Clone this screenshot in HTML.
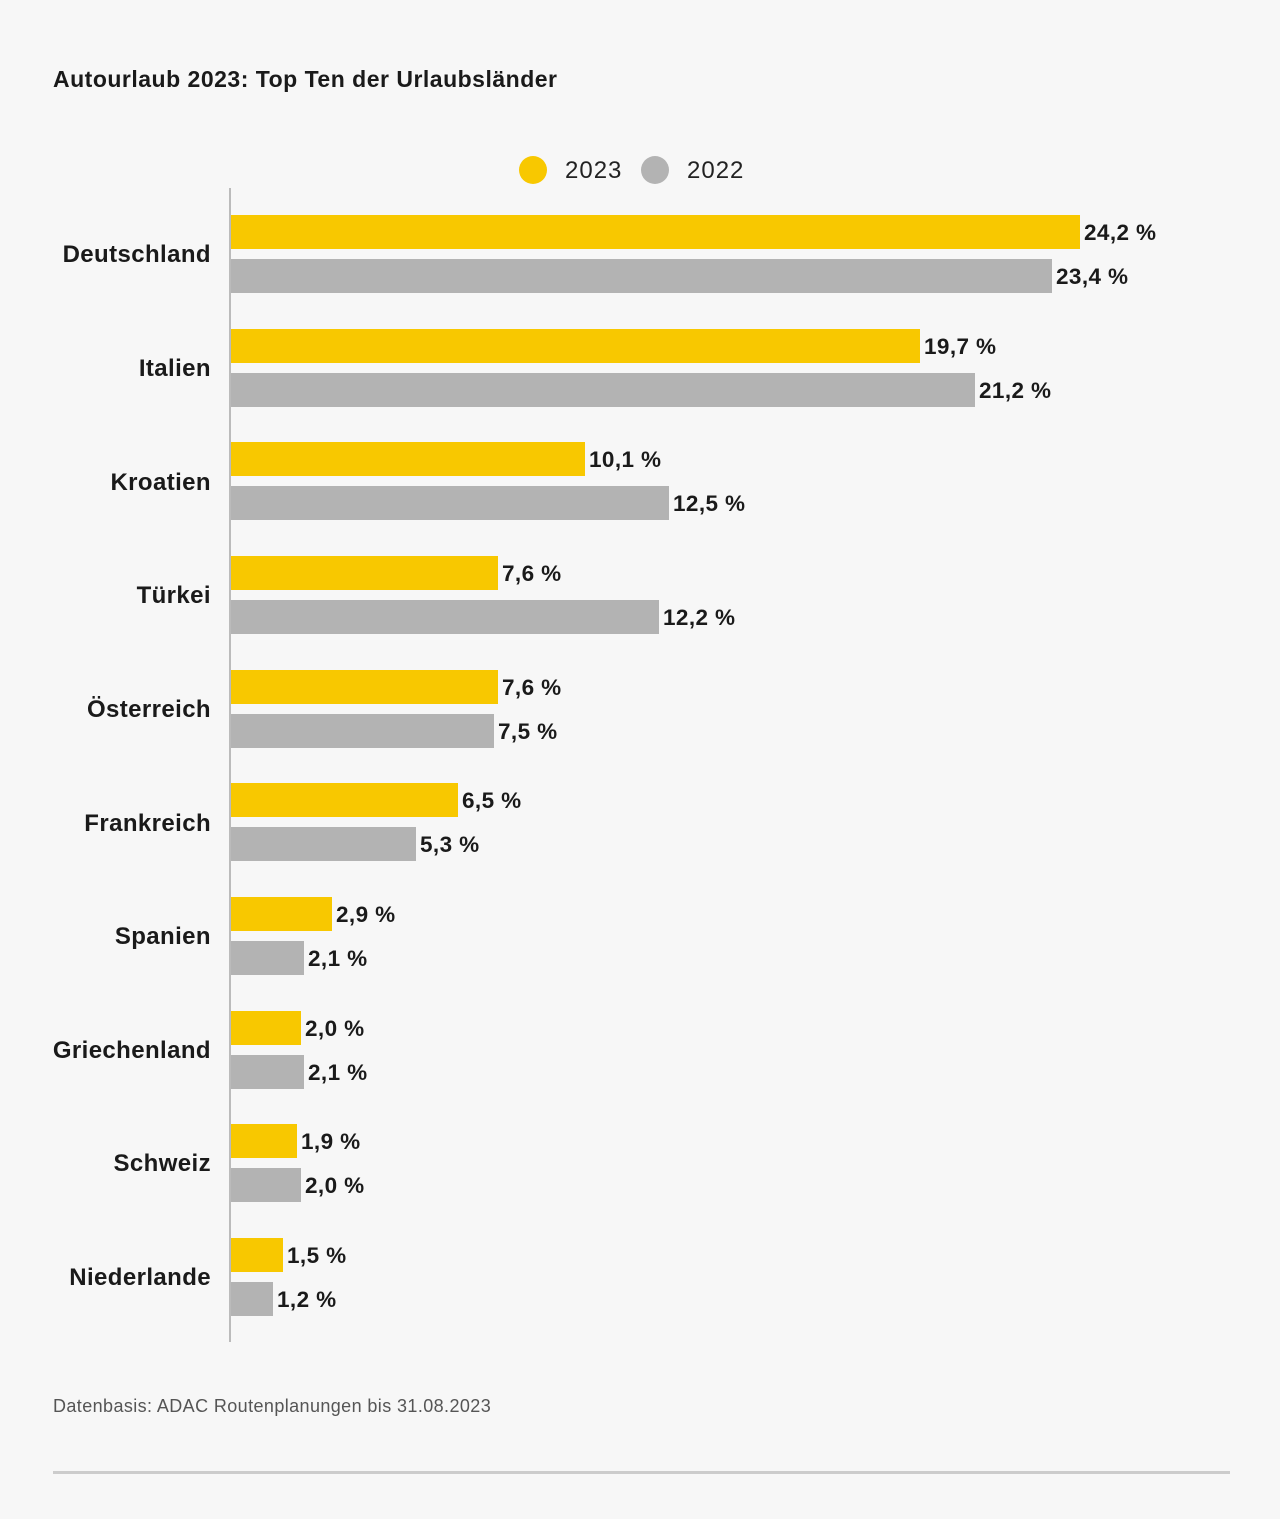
<!DOCTYPE html>
<html><head><meta charset="utf-8"><style>
html,body{margin:0;padding:0;background:#f7f7f7;}
svg{display:block;font-family:"Liberation Sans",sans-serif;}
</style></head><body>
<svg width="1280" height="1519" viewBox="0 0 1280 1519" xmlns="http://www.w3.org/2000/svg">
<rect width="1280" height="1519" fill="#f7f7f7"/>
<text x="53" y="87" font-size="23" font-weight="bold" fill="#1a1a1a" letter-spacing="0.5">Autourlaub 2023: Top Ten der Urlaubsländer</text>
<circle cx="533" cy="170" r="14" fill="#f8c800"/>
<text x="565" y="178" font-size="24" fill="#222" letter-spacing="1">2023</text>
<circle cx="655" cy="170" r="14" fill="#b3b3b3"/>
<text x="687" y="178" font-size="24" fill="#222" letter-spacing="1">2022</text>
<line x1="230" y1="188" x2="230" y2="1342" stroke="#bbb" stroke-width="2"/>
<g font-weight="bold" fill="#1a1a1a" font-size="24" letter-spacing="0.4">
<text x="211" y="262" text-anchor="end">Deutschland</text>
<text x="211" y="376" text-anchor="end">Italien</text>
<text x="211" y="490" text-anchor="end">Kroatien</text>
<text x="211" y="603" text-anchor="end">Türkei</text>
<text x="211" y="717" text-anchor="end">Österreich</text>
<text x="211" y="831" text-anchor="end">Frankreich</text>
<text x="211" y="944" text-anchor="end">Spanien</text>
<text x="211" y="1058" text-anchor="end">Griechenland</text>
<text x="211" y="1171" text-anchor="end">Schweiz</text>
<text x="211" y="1285" text-anchor="end">Niederlande</text>
</g>
<g>
<rect x="231" y="215" width="849" height="34" fill="#f8c800"/><rect x="231" y="259" width="821" height="34" fill="#b3b3b3"/>
<rect x="231" y="329" width="689" height="34" fill="#f8c800"/><rect x="231" y="373" width="744" height="34" fill="#b3b3b3"/>
<rect x="231" y="442" width="354" height="34" fill="#f8c800"/><rect x="231" y="486" width="438" height="34" fill="#b3b3b3"/>
<rect x="231" y="556" width="267" height="34" fill="#f8c800"/><rect x="231" y="600" width="428" height="34" fill="#b3b3b3"/>
<rect x="231" y="670" width="267" height="34" fill="#f8c800"/><rect x="231" y="714" width="263" height="34" fill="#b3b3b3"/>
<rect x="231" y="783" width="227" height="34" fill="#f8c800"/><rect x="231" y="827" width="185" height="34" fill="#b3b3b3"/>
<rect x="231" y="897" width="101" height="34" fill="#f8c800"/><rect x="231" y="941" width="73" height="34" fill="#b3b3b3"/>
<rect x="231" y="1011" width="70" height="34" fill="#f8c800"/><rect x="231" y="1055" width="73" height="34" fill="#b3b3b3"/>
<rect x="231" y="1124" width="66" height="34" fill="#f8c800"/><rect x="231" y="1168" width="70" height="34" fill="#b3b3b3"/>
<rect x="231" y="1238" width="52" height="34" fill="#f8c800"/><rect x="231" y="1282" width="42" height="34" fill="#b3b3b3"/>
</g>
<g font-weight="bold" fill="#1a1a1a" font-size="22.5" letter-spacing="0.4">
<text x="1084" y="240">24,2 %</text><text x="1056" y="284">23,4 %</text>
<text x="924" y="354">19,7 %</text><text x="979" y="398">21,2 %</text>
<text x="589" y="467">10,1 %</text><text x="673" y="511">12,5 %</text>
<text x="502" y="581">7,6 %</text><text x="663" y="625">12,2 %</text>
<text x="502" y="695">7,6 %</text><text x="498" y="739">7,5 %</text>
<text x="462" y="808">6,5 %</text><text x="420" y="852">5,3 %</text>
<text x="336" y="922">2,9 %</text><text x="308" y="966">2,1 %</text>
<text x="305" y="1036">2,0 %</text><text x="308" y="1080">2,1 %</text>
<text x="301" y="1149">1,9 %</text><text x="305" y="1193">2,0 %</text>
<text x="287" y="1263">1,5 %</text><text x="277" y="1307">1,2 %</text>
</g>
<text x="53" y="1412" font-size="18" fill="#555" letter-spacing="0.4">Datenbasis: ADAC Routenplanungen bis 31.08.2023</text>
<rect x="53" y="1471" width="1177" height="3" fill="#ccc"/>
</svg>
</body></html>
